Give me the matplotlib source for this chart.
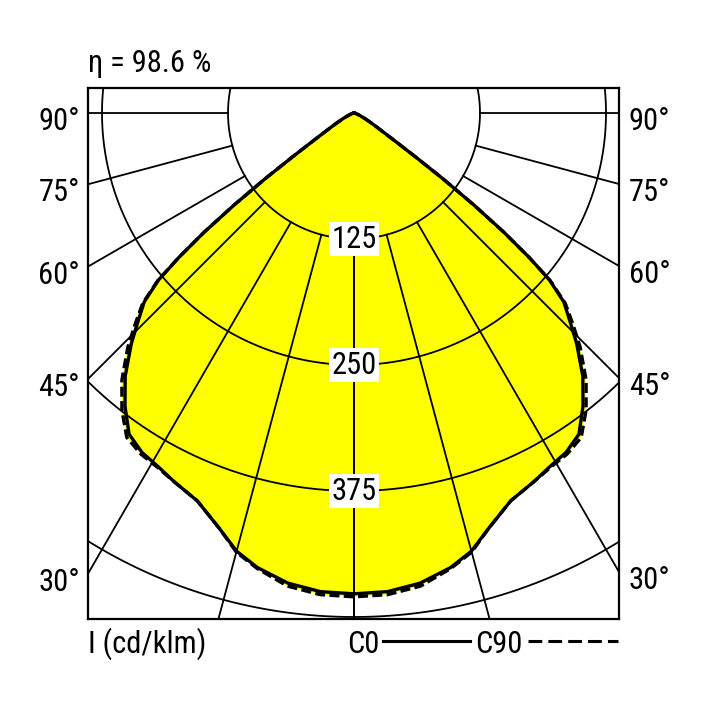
import numpy as np
import matplotlib
matplotlib.use('Agg')
import matplotlib.pyplot as plt
from matplotlib import font_manager
from matplotlib.lines import Line2D

# Lichtstärkeverteilung, Werte in cd/klm (symmetrisch)
gamma = [0, 4, 8, 12, 15, 18, 22, 26, 29, 32, 35, 38, 41, 44, 46, 48,
         49.5, 50.5, 51.5, 52.5, 53.5, 54.5, 56, 58, 60, 63, 66, 70, 80, 90]
i_c0 = [477, 476, 471, 461, 450, 433, 415, 407, 401, 397, 389, 369, 346, 318, 298, 280,
        255, 225, 190, 150, 110, 75, 45, 28, 20, 12, 7, 4, 1, 0]
i_c90 = [480, 479, 474, 462, 451, 433, 415, 407, 402, 399, 393, 374, 351, 323, 302, 282,
         256, 225, 190, 150, 110, 75, 45, 28, 20, 12, 7, 4, 1, 0]

ring_values = [125, 250, 375, 500]
ring_labels = ['125', '250', '375']
spoke_angles = [0, 15, 30, 45, 60, 75, 90]
side_labels = [90, 75, 60, 45, 30]
eta_text = 'η = 98.6 %'
unit_text = 'I (cd/klm)'
legend_names = ['C0', 'C90']

# schmale Schrift suchen, sonst DejaVu
names = {f.name for f in font_manager.fontManager.ttflist}
font = 'DejaVu Sans'
for cand in ['Liberation Sans Narrow', 'Roboto Condensed', 'Open Sans Condensed']:
    if cand in names:
        font = cand
        break
plt.rcParams['font.family'] = [font, 'DejaVu Sans']
fs = 22 if font != 'DejaVu Sans' else 17

W = 708.0
fig = plt.figure(figsize=(7.08, 7.08), dpi=100)
ax = fig.add_axes([88 / W, (708 - 619) / W, 531 / W, 531 / W])
s = 1.008  # px pro cd/klm
ax.set_xlim((88 - 354) / s, (619 - 354) / s)
ax.set_ylim(-(619 - 113) / s, (113 - 88) / s)
ax.set_xticks([])
ax.set_yticks([])
for sp in ax.spines.values():
    sp.set_linewidth(1.6)


def polar_xy(ang, val, side=1):
    a = np.radians(np.asarray(ang, dtype=float))
    v = np.asarray(val, dtype=float)
    return side * v * np.sin(a), -v * np.cos(a)


def full_curve(vals):
    xr, yr = polar_xy(gamma, vals, 1)
    xl, yl = polar_xy(gamma, vals, -1)
    x = np.concatenate([xl[::-1], xr])
    y = np.concatenate([yl[::-1], yr])
    return x, y


# gelbe Fläche
for vals in [i_c90, i_c0]:
    x, y = full_curve(vals)
    ax.fill(x, y, color='#ffff00', lw=0, zorder=1)

# Kreise
t = np.linspace(0, 2 * np.pi, 721)
for r in ring_values:
    ax.plot(r * np.sin(t), -r * np.cos(t), color='black', lw=1.3, zorder=2)

# Speichen
for a in spoke_angles:
    for side in [1, -1]:
        x, y = polar_xy([a, a], [ring_values[0], 900], side)
        ax.plot(x, y, color='black', lw=1.3, zorder=2)

# Kurven
x, y = full_curve(i_c90)
ax.plot(x, y, color='black', lw=2.4, linestyle=(0, (3, 1.3)), zorder=3)
x, y = full_curve(i_c0)
ax.plot(x, y, color='black', lw=2.4, zorder=4, solid_joinstyle='round')

# Ringbeschriftung
for r, lab in zip(ring_values, ring_labels):
    ax.text(0, -r, lab, ha='center', va='center', fontsize=fs, zorder=5,
            bbox=dict(fc='white', ec='none', pad=2))

# Winkelbeschriftung links und rechts
x0, x1 = ax.get_xlim()
for a in side_labels:
    yl = 0 if a == 90 else -abs(x0) / np.tan(np.radians(a))
    yr = 0 if a == 90 else -abs(x1) / np.tan(np.radians(a))
    ax.annotate(f'{a}°', xy=(x0, yl), xycoords='data', xytext=(-8, -17),
                textcoords='offset pixels', ha='right', va='baseline',
                fontsize=fs, annotation_clip=False)
    ax.annotate(f'{a}°', xy=(x1, yr), xycoords='data', xytext=(10, -17),
                textcoords='offset pixels', ha='left', va='baseline',
                fontsize=fs, annotation_clip=False)

fig.text(88 / W, 1 - 72 / W, eta_text, ha='left', va='baseline', fontsize=fs)
fig.text(88 / W, 1 - 653 / W, unit_text, ha='left', va='baseline', fontsize=fs)
fig.text(347 / W, 1 - 653 / W, legend_names[0], ha='left', va='baseline', fontsize=fs)
fig.text(475 / W, 1 - 653 / W, legend_names[1], ha='left', va='baseline', fontsize=fs)
fig.add_artist(Line2D([383 / W, 470 / W], [1 - 641 / W] * 2, color='black', lw=2.2))
fig.add_artist(Line2D([528 / W, 618 / W], [1 - 641 / W] * 2, color='black', lw=2.2,
                      linestyle=(0, (4.5, 2))))

fig.savefig('out.png', dpi=100)
